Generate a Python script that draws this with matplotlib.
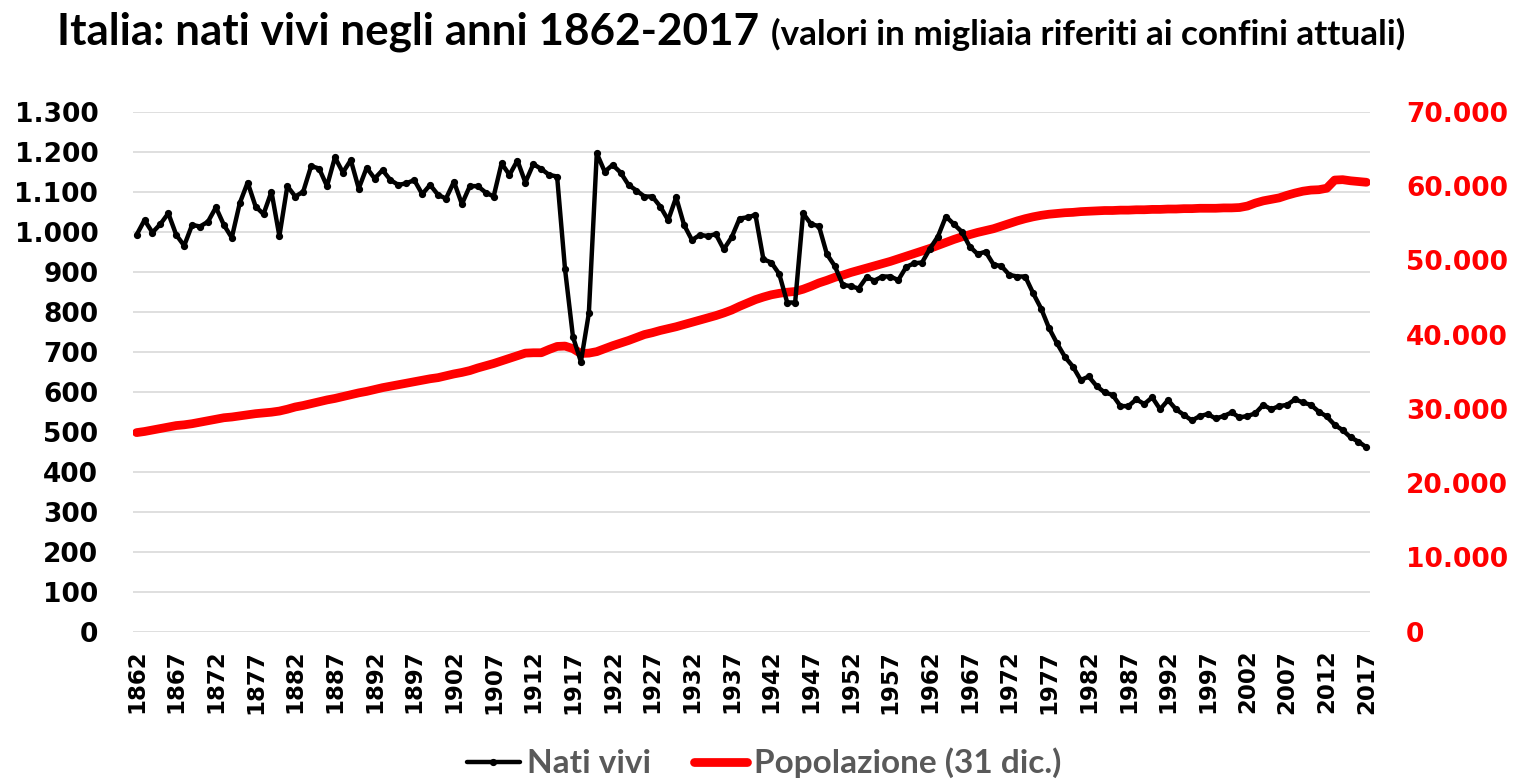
import matplotlib
matplotlib.use("Agg")
import matplotlib.pyplot as plt
from matplotlib.ticker import FuncFormatter

# anni 1862-2017
anni = list(range(1862, 2018))

# nati vivi (migliaia)
nati_vivi = [
    992, 1029, 998, 1019, 1046, 992, 965, 1017,
    1013, 1025, 1061, 1017, 985, 1071, 1123, 1063, 1044, 1100,
    989, 1114, 1088, 1100, 1164, 1158, 1114, 1186, 1148, 1179,
    1108, 1160, 1133, 1154, 1129, 1117, 1121, 1129, 1094, 1117,
    1092, 1083, 1125, 1069, 1114, 1114, 1098, 1088, 1171, 1142,
    1178, 1123, 1169, 1157, 1142, 1138, 906, 737, 675, 796,
    1196, 1150, 1167, 1148, 1117, 1103, 1088, 1088, 1063, 1029,
    1086, 1017, 979, 992, 989, 994, 956, 986, 1033, 1036,
    1042, 931, 923, 894, 823, 823, 1046, 1019, 1014, 944,
    914, 867, 864, 858, 886, 878, 888, 888, 879, 912,
    921, 923, 958, 988, 1038, 1019, 1000, 963, 944, 950,
    918, 914, 892, 888, 888, 846, 808, 759, 721, 687,
    663, 629, 638, 614, 598, 592, 564, 564, 581, 569,
    586, 556, 579, 556, 542, 528, 539, 544, 533, 539,
    548, 536, 539, 546, 567, 556, 564, 567, 581, 573,
    567, 550, 538, 517, 504, 486, 475, 461,
]

# popolazione al 31 dicembre (migliaia)
popolazione = [
    26800, 26950, 27150, 27350, 27550, 27750, 27850, 28000,
    28200, 28400, 28600, 28800, 28900, 29050, 29200, 29350, 29450, 29550,
    29700, 29950, 30250, 30450, 30700, 30950, 31200, 31400, 31650, 31900,
    32150, 32350, 32600, 32850, 33050, 33250, 33450, 33650, 33850, 34050,
    34200, 34450, 34700, 34900, 35150, 35500, 35800, 36100, 36450, 36800,
    37150, 37500, 37550, 37550, 38000, 38400, 38450, 38100, 37450, 37500,
    37700, 38100, 38500, 38850, 39200, 39600, 40000, 40250, 40550, 40800,
    41050, 41350, 41650, 41950, 42250, 42550, 42900, 43300, 43800, 44250,
    44700, 45050, 45350, 45550, 45700, 45800, 46100, 46500, 46950, 47300,
    47700, 48000, 48350, 48650, 48950, 49250, 49550, 49850, 50200, 50550,
    50900, 51250, 51600, 52000, 52400, 52800, 53150, 53450, 53750, 54000,
    54250, 54600, 54950, 55300, 55600, 55850, 56050, 56200, 56300, 56400,
    56450, 56550, 56600, 56650, 56700, 56700, 56750, 56750, 56800, 56800,
    56850, 56850, 56900, 56900, 56950, 56950, 57000, 57000, 57000, 57050,
    57050, 57100, 57300, 57700, 58000, 58200, 58400, 58750, 59050, 59300,
    59450, 59500, 59700, 60800, 60850, 60700, 60600, 60500,
]

anni_etichette = anni[::5]
tick_sx = list(range(0, 1301, 100))
tick_dx = list(range(0, 70001, 10000))

titolo = "Italia: nati vivi negli anni 1862-2017"
sottotitolo = "(valori in migliaia riferiti ai confini attuali)"


def migliaia(v, pos):
    return "{:,.0f}".format(v).replace(",", ".")


fig = plt.figure(figsize=(15.17, 7.79), dpi=100)
pos = [133 / 1517, 0.1891, 1237 / 1517, 0.6675]

# asse principale: griglia, etichette
ax = fig.add_axes(pos)
ax.set_xlim(1861.55, 2017.45)
ax.set_ylim(0, 1300)
ax.set_yticks(tick_sx)
ax.yaxis.set_major_formatter(FuncFormatter(migliaia))
ax.set_xticks(anni_etichette)
ax.set_xticklabels([str(a) for a in anni_etichette], rotation=90)
ax.grid(axis="y", color="#d9d9d9", linewidth=1.2)
ax.set_axisbelow(True)
for s in ax.spines.values():
    s.set_visible(False)
ax.tick_params(axis="y", length=0, pad=25, labelsize=19, labelcolor="black")
ax.tick_params(axis="x", length=0, pad=13, labelsize=16.5)
for lab in ax.get_xticklabels() + ax.get_yticklabels():
    lab.set_fontweight("bold")

# asse secondario: popolazione
ax2 = ax.twinx()
ax2.set_ylim(0, 70000)
ax2.set_yticks(tick_dx)
ax2.yaxis.set_major_formatter(FuncFormatter(migliaia))
for s in ax2.spines.values():
    s.set_visible(False)
ax2.tick_params(axis="y", length=0, pad=26, labelsize=19, labelcolor="#ff0000")
for lab in ax2.get_yticklabels():
    lab.set_fontweight("bold")
linea_pop, = ax2.plot(anni, popolazione, color="#ff0000", linewidth=6.3,
                      solid_capstyle="round", solid_joinstyle="round")

# nati vivi sopra la popolazione
ax3 = fig.add_axes(pos, sharex=ax, sharey=ax)
ax3.set_axis_off()
linea_nati, = ax3.plot(anni, nati_vivi, color="black", linewidth=3.2,
                       marker="o", markersize=4.2,
                       solid_joinstyle="round", solid_capstyle="round")

# titolo
font_titolo = ["Lato", "DejaVu Sans"]
t1 = fig.text(57 / 1517, 1 - 45 / 779, titolo, fontsize=32, fontweight="bold",
              family=font_titolo, va="baseline", ha="left")
r = fig.canvas.get_renderer()
w = t1.get_window_extent(r).width
t1.set_fontsize(32 * 703 / w)
x1 = t1.get_window_extent(r).x1
t2 = fig.text((x1 + 12) / 1517, 1 - 45 / 779, sottotitolo, fontsize=24,
              fontweight="bold", family=font_titolo, va="baseline", ha="left")
w2 = t2.get_window_extent(r).width
t2.set_fontsize(24 * 637 / w2)

leg = fig.legend([linea_nati, linea_pop], ["Nati vivi", "Popolazione (31 dic.)"],
                 loc="center", bbox_to_anchor=(0.5036, 0.0205), ncol=2,
                 frameon=False, numpoints=1, handlelength=1.6,
                 handletextpad=0.2, columnspacing=1.3,
                 prop={"family": font_titolo, "weight": "bold", "size": 24})
for t in leg.get_texts():
    t.set_color("#595959")

fig.savefig("out.png", dpi=100)
